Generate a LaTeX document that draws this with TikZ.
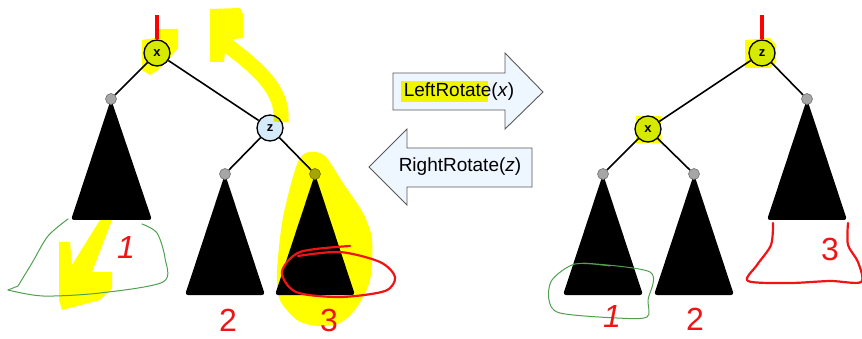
\documentclass[tikz,border=0pt]{standalone}
\usepackage{fontspec}
\setmainfont{Liberation Sans}
\usepackage{xcolor}
\usetikzlibrary{backgrounds}
\definecolor{nodeBlue}{RGB}{213,234,251}
\definecolor{leafGray}{RGB}{166,166,166}
\definecolor{arrowBlue}{RGB}{238,246,255}
\definecolor{markYellow}{RGB}{255,255,0}
\definecolor{penRed}{RGB}{240,20,20}
\definecolor{penGreen}{RGB}{80,160,80}

\begin{document}
\begin{tikzpicture}[
  x=1pt,y=-1pt,
  key/.style={circle,draw=black,line width=1.3pt,fill=nodeBlue,minimum size=26pt,inner sep=0pt,font=\fontsize{13}{13}\selectfont\bfseries},
  leaf/.style={circle,draw=black!55,line width=0.6pt,fill=leafGray,minimum size=11pt,inner sep=0pt},
  edge/.style={line width=1.6pt},
  subtree/.style={fill=black,rounded corners=3pt},
  rootline/.style={draw=red,line width=4.5pt},
  rotarrow/.style={draw=black!65,fill=arrowBlue,line width=0.9pt},
  rotlabel/.style={font=\fontsize{19}{22}\selectfont,inner sep=0pt},
  marker/.style={fill=markYellow},
  markerline/.style={draw=markYellow,line join=round},
  redpen/.style={draw=penRed,line width=2.2pt,line cap=round,line join=round},
  greenpen/.style={draw=penGreen,line width=1pt,line cap=round,line join=round},
  digit/.style={text=penRed,font=\fontsize{32}{32}\selectfont,inner sep=0pt}
]
  \useasboundingbox (0,0) rectangle (862,339);

  % Left tree, before the rotation.
  \node[key] (lx) at (157,53) {x};
  \node[key] (lz) at (270,128) {z};
  \node[leaf] (la) at (111,99) {};
  \node[leaf] (lb) at (225,174) {};
  \node[leaf] (lc) at (315,174) {};
  \coordinate (ltop) at (157,15);

  % Right tree, after the rotation.
  \node[key] (rz) at (762,53) {z};
  \node[key] (rx) at (648,129) {x};
  \node[leaf] (rc) at (807,99) {};
  \node[leaf] (ra) at (603,174) {};
  \node[leaf] (rb) at (694,174) {};
  \coordinate (rtop) at (762,15);

  % Subtrees hang below their roots.
  \begin{pgfonlayer}{background}
    \fill[subtree] (la.center) -- ++(-40,121) -- ++(81,0) -- cycle;
    \foreach \t in {lb,lc,ra,rb} {
      \fill[subtree] (\t.center) -- ++(-40,121) -- ++(80,0) -- cycle;
    }
    \fill[subtree] (rc.center) -- ++(-40,121) -- ++(80,0) -- cycle;
  \end{pgfonlayer}

  \draw[edge] (lx) -- (la);
  \draw[edge] (lx) -- (lz);
  \draw[edge] (lz) -- (lb);
  \draw[edge] (lz) -- (lc);
  \draw[edge] (rz) -- (rx);
  \draw[edge] (rz) -- (rc);
  \draw[edge] (rx) -- (ra);
  \draw[edge] (rx) -- (rb);
  \draw[rootline] (ltop) -- (lx.north);
  \draw[rootline] (rtop) -- (rz.north);

  % Rotation arrows.
  \draw[rotarrow] (393,73) -- (505,73) -- (505,53) -- (543,92) -- (505,129) -- (505,110) -- (393,110) -- cycle;
  \draw[rotarrow] (532,148) -- (407,148) -- (407,129) -- (369,167) -- (407,205) -- (407,187) -- (532,187) -- cycle;
  \node[rotlabel] (leftrot) at (459,92) {LeftRotate(\textit{x})};
  \node[rotlabel] (rightrot) at (460,167) {RightRotate(\textit{z})};

  % Highlighter marks.
  \begin{scope}[blend mode=multiply]
    \fill[marker] (401,81) rectangle (488,102);
    \fill[marker] (142,40) -- (155,38) -- (158,29) -- (178,29) -- (178,48) -- (168,60) -- (158,70) -- (150,75) -- (142,70) -- cycle;
    \fill[marker] (210,9) -- (240,8) -- (243,14) -- (243,38) -- (226,40) -- (224,62) -- (210,62) -- cycle;
    \draw[markerline,line width=15pt] (220,40) .. controls (258,68) and (284,90) .. (281,122);
    \fill[marker] plot[smooth cycle] coordinates {(310,152) (325,156) (343,183) (363,213) (372,240) (370,280) (357,307) (340,323) (317,326) (297,320) (280,300) (277,273) (282,223) (292,180) (300,158)};
    \fill[marker] (59,242) -- (70,242) -- (72,265) -- (100,220) -- (112,220) -- (92,272) -- (112,272) -- (112,289) -- (100,300) -- (62,310) -- (59,300) -- cycle;
    \fill[marker] (745,40) -- (770,38) -- (776,45) -- (776,62) -- (770,68) -- (745,68) -- cycle;
    \fill[marker] (636,116) rectangle (661,143);
  \end{scope}

  % Pen notes.
  \draw[greenpen] plot[smooth] coordinates {(68,219) (48,236) (32,263) (18,286)} -- (8,290);
  \draw[greenpen] plot[smooth] coordinates {(8,290) (43,296) (100,293) (163,282) (165,258) (157,233) (142,224)};
  \draw[greenpen] plot[smooth] coordinates {(583,263) (650,272) (648,300) (647,317) (617,318) (560,313) (549,300) (552,280) (575,264) (610,266)};
  \draw[redpen] plot[smooth] coordinates {(350,246) (300,252) (282,272) (296,292) (340,297) (385,291) (395,277) (380,262) (340,252) (298,256)};
  \draw[redpen] plot[smooth] coordinates {(773,223) (771,245) (757,265) (748,281) (790,283) (830,281) (861,282) (858,262) (848,245) (848,223)};

  \node[digit] (one) at (126,247) {\itshape 1};
  \node[digit] (two) at (228,320) {2};
  \node[digit] (three) at (329,320) {3};
  \node[digit] (oneR) at (612,316) {\itshape 1};
  \node[digit] (twoR) at (695,319) {2};
  \node[digit] (threeR) at (830,249) {3};
\end{tikzpicture}
\end{document}
